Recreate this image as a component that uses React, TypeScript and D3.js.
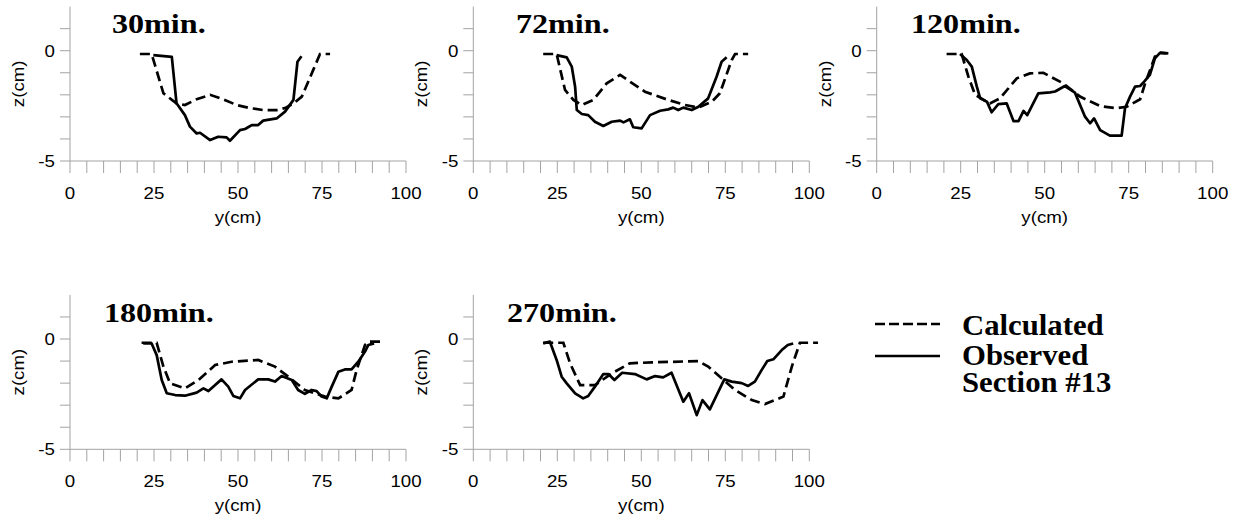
import React from "react";
import * as d3 from "d3";

// cross-section profiles, [y(cm), z(cm)]
const calc30 = [
  [20.8, -0.15], [24.3, -0.15], [27.8, -1.93], [31.7, -2.39], [34.2, -2.46], [37.7, -2.2],
  [41.7, -2.0], [45.5, -2.2], [49.6, -2.46], [53.5, -2.6], [57.5, -2.69], [61.5, -2.69],
  [64, -2.6], [66.5, -2.39], [69, -2.08], [72.4, -0.87], [74.4, -0.15], [77.4, -0.15],
];
const obs30 = [
  [24.8, -0.2], [30.3, -0.28], [31.7, -2.38], [34.2, -2.92], [35.7, -3.44], [37.7, -3.75],
  [38.7, -3.72], [41.7, -4.05], [44.1, -3.9], [46.6, -3.93], [47.6, -4.08], [50.6, -3.6],
  [52.1, -3.55], [54.1, -3.37], [56, -3.37], [57.5, -3.17], [61.5, -3.07], [64, -2.76],
  [66.5, -2.23], [67.7, -0.5], [68.9, -0.25],
];
const calc72 = [
  [20.8, -0.15], [24.8, -0.15], [27.3, -1.78], [29.8, -2.23], [32.3, -2.46], [35.7, -2.23],
  [39.7, -1.48], [43.7, -1.1], [51.1, -1.86], [58, -2.23], [63, -2.46], [67, -2.58],
  [71, -2.31], [73.4, -1.93], [76.9, -0.42], [77.9, -0.15], [81.8, -0.15],
];
const obs72 = [
  [24.8, -0.2], [27.8, -0.3], [29.3, -0.72], [30.3, -1.63], [30.8, -2.69], [32.3, -2.87],
  [34.2, -2.92], [36.2, -3.22], [38.7, -3.41], [41.2, -3.22], [43.7, -3.17], [44.7, -3.25],
  [46.6, -3.11], [47.6, -3.47], [50.1, -3.52], [52.6, -2.92], [55.6, -2.72], [58, -2.66],
  [59.5, -2.58], [61, -2.69], [62.5, -2.58], [65, -2.69], [67, -2.54], [69.9, -2.16],
  [72.4, -1.18], [73.9, -0.5], [75.4, -0.3],
];
const calc120 = [
  [20.8, -0.15], [25.3, -0.15], [27.3, -1.18], [29.3, -2.0], [33.7, -2.39], [36.7, -2.16],
  [41.7, -1.25], [45.6, -1.03], [49.6, -1.0], [55.5, -1.48], [60.5, -2.08], [66.5, -2.51],
  [71.4, -2.61], [74.4, -2.54], [78.4, -2.2], [79.9, -1.48], [82.8, -0.27], [84.3, -0.09],
  [86.8, -0.12],
];
const obs120 = [
  [24.8, -0.15], [26.8, -0.42], [28.3, -0.72], [29.8, -1.63], [30.8, -2.16], [32.8, -2.31],
  [34.2, -2.79], [36.2, -2.42], [38.7, -2.39], [40.7, -3.19], [42.2, -3.19], [43.7, -2.73],
  [44.8, -2.92], [48.1, -1.93], [51.6, -1.89], [53.1, -1.85], [56, -1.6], [59, -1.9],
  [62, -2.99], [63.5, -3.29], [64.7, -3.07], [66.5, -3.6], [69.4, -3.85], [72.9, -3.85],
  [73.9, -2.61], [75.4, -2.08], [76.9, -1.63], [78.4, -1.6], [79.6, -1.4], [81.3, -1.1],
  [82.8, -0.35], [84.3, -0.1], [86.2, -0.12],
];
const calc180 = [
  [21.3, -0.17], [25.8, -0.17], [27.8, -1.25], [29.8, -2.01], [34.2, -2.24], [38.2, -1.86],
  [43.2, -1.18], [48.1, -1.03], [56, -0.95], [61, -1.25], [65, -1.71], [69.9, -2.31],
  [75.9, -2.61], [79.9, -2.69], [83.8, -2.31], [85.3, -1.41], [87.8, -0.27], [88.8, -0.12],
  [93.3, -0.12],
];
const obs180 = [
  [21.8, -0.2], [24.3, -0.2], [25.8, -0.73], [27.3, -1.86], [28.8, -2.46], [31.3, -2.54],
  [34.2, -2.57], [37.7, -2.43], [39.7, -2.24], [41.2, -2.36], [43.2, -2.09], [45.1, -1.83],
  [47.1, -2.16], [48.6, -2.58], [50.6, -2.69], [52.1, -2.31], [56, -1.83], [59, -1.83],
  [61, -1.93], [63, -1.68], [66, -1.86], [67.9, -2.31], [69.9, -2.49], [71.9, -2.31],
  [73.4, -2.36], [74.9, -2.61], [76.4, -2.69], [77.9, -2.16], [79.9, -1.48], [81.8, -1.38],
  [83.8, -1.38], [85.8, -1.03], [87.8, -0.57], [88.8, -0.27], [90.5, -0.2],
];
const calc270 = [
  [20.8, -0.17], [26.8, -0.17], [28.8, -1.1], [31.8, -2.09], [36.2, -2.09], [41.2, -1.56],
  [46.6, -1.1], [53.1, -1.06], [67, -1.0], [69.9, -1.25], [73.9, -1.78], [77.9, -2.31],
  [82.9, -2.77], [86.8, -2.95], [92.3, -2.61], [94.8, -1.25], [97.2, -0.17], [102.6, -0.17],
];
const obs270 = [
  [20.8, -0.2], [22.8, -0.12], [24.8, -0.95], [26.3, -1.71], [27.8, -2.01], [30.3, -2.46],
  [32.7, -2.69], [34.2, -2.58], [36.2, -2.16], [38.7, -1.59], [40.2, -1.59], [42, -1.86],
  [44.3, -1.53], [48.1, -1.59], [51.6, -1.83], [54.1, -1.68], [56.5, -1.74], [59, -1.53],
  [62.5, -2.84], [64.2, -2.46], [66.5, -3.45], [68.2, -2.77], [70.4, -3.19], [74.7, -1.83],
  [76.9, -1.93], [79.9, -2.0], [81.8, -2.13], [83.8, -1.93], [85.8, -1.41], [87.5, -1.0],
  [89.3, -0.92], [91.8, -0.5], [93.6, -0.27], [95.2, -0.2],
];

const titles = ["30min.", "72min.", "120min.", "180min.", "270min."];
const xTicks = d3.range(0, 101, 5);
const xLabels = [0, 25, 50, 75, 100];
const zTicks = d3.range(-5, 2, 1);
const zLabels = [0, -5];
const legendItems = ["Calculated", "Observed", "Section #13"];

const W = 336;
const H = 154.4;
const axisColor = "#a3a3a3";
const sans = "'Liberation Sans', Arial, sans-serif";
const serif = "'Liberation Serif', 'Times New Roman', serif";

const panels = [
  { left: 70, top: 6.6, titleX: 42, calc: calc30, obs: obs30 },
  { left: 473.3, top: 6.6, titleX: 42.7, calc: calc72, obs: obs72 },
  { left: 876.7, top: 6.6, titleX: 34.3, calc: calc120, obs: obs120 },
  { left: 70, top: 294.9, titleX: 34, calc: calc180, obs: obs180 },
  { left: 473.3, top: 294.9, titleX: 33.7, calc: calc270, obs: obs270 },
];

const x = d3.scaleLinear().domain([0, 100]).range([0, W]);
const z = d3.scaleLinear().domain([-5, 2]).range([H, 0]);
const line = d3
  .line<number[]>()
  .x((d) => x(d[0]))
  .y((d) => z(d[1]));

const Panel = ({ p, title }: { p: any; title: string }) => (
  <g transform={`translate(${p.left},${p.top})`}>
    {/* axes */}
    <line x1={0} x2={0} y1={0} y2={H} stroke={axisColor} />
    <line x1={0} x2={W} y1={H} y2={H} stroke={axisColor} />
    {zTicks.map((t) => (
      <line key={t} x1={-10} x2={0} y1={z(t)} y2={z(t)} stroke={axisColor} />
    ))}
    {xTicks.map((t) => (
      <line key={t} x1={x(t)} x2={x(t)} y1={H} y2={H + 12} stroke={axisColor} />
    ))}
    {zLabels.map((t) => (
      <text
        key={t}
        transform={`translate(-15,${z(t) + 6}) scale(1.1,1)`}
        textAnchor="end"
        fontFamily={sans}
        fontSize={17}
      >
        {t}
      </text>
    ))}
    {xLabels.map((t) => (
      <text
        key={t}
        transform={`translate(${x(t)},${H + 38}) scale(1.1,1)`}
        textAnchor="middle"
        fontFamily={sans}
        fontSize={17}
      >
        {t}
      </text>
    ))}
    <text
      transform={`translate(${W / 2},${H + 62}) scale(1.1,1)`}
      textAnchor="middle"
      fontFamily={sans}
      fontSize={17}
    >
      y(cm)
    </text>
    <text
      transform={`translate(-46,${z(-1.5)}) rotate(-90) scale(1.1,1)`}
      textAnchor="middle"
      fontFamily={sans}
      fontSize={17}
    >
      z(cm)
    </text>
    <text
      transform={`translate(${p.titleX},26.6) scale(1.19,1)`}
      fontFamily={serif}
      fontWeight="bold"
      fontSize={27}
    >
      {title}
    </text>
    <path d={line(p.calc) ?? ""} fill="none" stroke="#000" strokeWidth={2.7} strokeDasharray="10,5" />
    <path d={line(p.obs) ?? ""} fill="none" stroke="#000" strokeWidth={2.7} strokeLinejoin="round" />
  </g>
);

const legendBaselines = [335, 365, 392];

export default function App() {
  return (
    <svg
      width={1242}
      height={527}
      style={{ position: "absolute", left: 0, top: 0, background: "#fff" }}
    >
      {panels.map((p, i) => (
        <Panel key={i} p={p} title={titles[i]} />
      ))}
      <g>
        <line x1={875} x2={940} y1={324} y2={324} stroke="#000" strokeWidth={2.7} strokeDasharray="10,4" />
        <line x1={875} x2={940} y1={356} y2={356} stroke="#000" strokeWidth={2.7} />
        {legendItems.map((t, i) => (
          <text
            key={t}
            transform={`translate(962,${legendBaselines[i]}) scale(1.06,1)`}
            fontFamily={serif}
            fontWeight="bold"
            fontSize={29}
          >
            {t}
          </text>
        ))}
      </g>
    </svg>
  );
}
